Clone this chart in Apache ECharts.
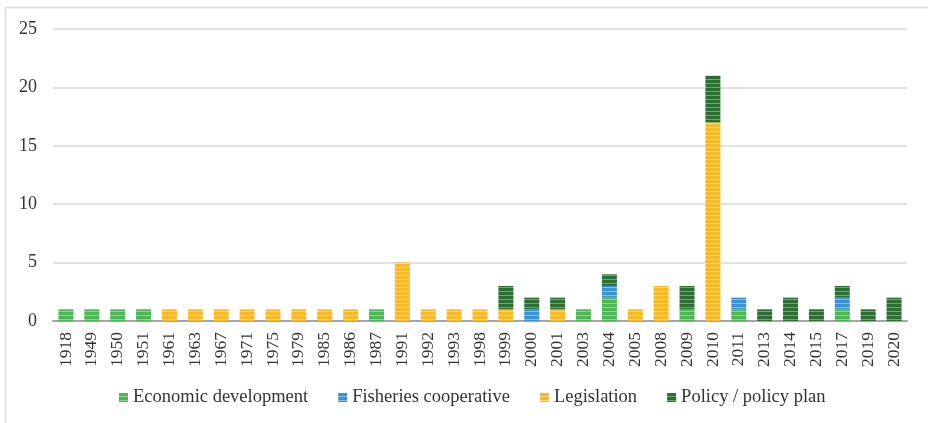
<!DOCTYPE html>
<html>
<head>
<meta charset="utf-8">
<script src="https://cdn.jsdelivr.net/npm/echarts@6/dist/echarts.min.js"></script>
<style>html,body{margin:0;padding:0;background:#fff;}#c{width:928px;height:423px;}</style>
</head>
<body>
<div id="c"></div>
<script>
const categories = ['1918','1949','1950','1951','1961','1963','1967','1971','1975','1979','1985','1986','1987','1991','1992','1993','1998','1999','2000','2001','2003','2004','2005','2008','2009','2010','2011','2013','2014','2015','2017','2019','2020'];
const economicDevelopment = [1,1,1,1,0,0,0,0,0,0,0,0,1,0,0,0,0,0,0,0,1,2,0,0,1,0,1,0,0,0,1,0,0];
const fisheriesCooperative = [0,0,0,0,0,0,0,0,0,0,0,0,0,0,0,0,0,0,1,0,0,1,0,0,0,0,1,0,0,0,1,0,0];
const legislation = [0,0,0,0,1,1,1,1,1,1,1,1,0,5,1,1,1,1,0,1,0,0,1,3,0,17,0,0,0,0,0,0,0];
const policyPlan = [0,0,0,0,0,0,0,0,0,0,0,0,0,0,0,0,0,2,1,1,0,1,0,0,2,4,0,1,2,1,1,1,2];
const yTicks = [0,5,10,15,20,25];

function stripe(base, light) {
  const cv = document.createElement('canvas');
  cv.width = 4; cv.height = 4;
  const ctx = cv.getContext('2d');
  ctx.fillStyle = base; ctx.fillRect(0,0,4,4);
  ctx.fillStyle = light; ctx.fillRect(0,3,4,1);
  return {image: cv, repeat: 'repeat'};
}
const cols = [
  stripe('#4db554', '#8fd493'),
  stripe('#3a92d2', '#86bde6'),
  stripe('#f7b82c', '#fbd98a'),
  stripe('#2c6e34', '#6fa476')
];
const names = ['Economic development','Fisheries cooperative','Legislation','Policy / policy plan'];
const values = [economicDevelopment, fisheriesCooperative, legislation, policyPlan];

const chart = echarts.init(document.getElementById('c'), null, {renderer:'canvas'});
const font = '"Liberation Serif", "Times New Roman", serif';
chart.setOption({
  animation: false,
  textStyle: {fontFamily: font},
  graphic: [{type:'rect', shape:{x:5.5,y:7.5,width:940,height:440}, style:{fill:'none', stroke:'#dcdcd6', lineWidth:1.5}, silent:true}],
  grid: {left:53, right:21, top:29, bottom:102},
  legend: {
    bottom: 11, left: 114,
    itemWidth: 9, itemHeight: 9, itemGap: 30, itemStyle: {borderWidth: 0},
    icon: 'rect',
    textStyle: {fontFamily: font, fontSize: 18.5, color:'#333333'},
    data: names
  },
  xAxis: {
    type: 'category', data: categories,
    axisLine: {lineStyle:{color:'#a6a6a6', width:2}},
    axisTick: {show:false},
    axisLabel: {rotate:90, fontFamily: font, fontSize:17.5, color:'#333333', margin:11, interval:0}
  },
  yAxis: {
    type: 'value', min: yTicks[0], max: yTicks[yTicks.length-1], interval: 5,
    axisLine:{show:false}, axisTick:{show:false},
    splitLine:{lineStyle:{color:'#d9d9d4', width:1.5}},
    axisLabel:{fontFamily: font, fontSize:18, color:'#333333', margin:16}
  },
  series: names.map((n,i)=>({
    name: n, type:'bar', stack:'total', barWidth: 15,
    itemStyle:{color: cols[i]},
    data: values[i].map(v => v === 0 ? null : v)
  }))
});
</script>
</body>
</html>
